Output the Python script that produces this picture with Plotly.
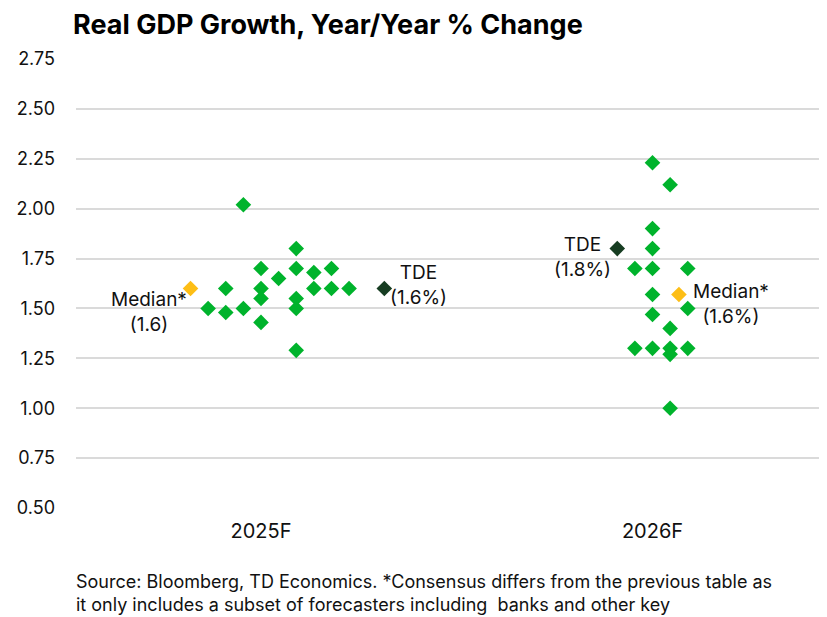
import plotly.graph_objects as go

# ---- data ----
categories = ["2025F", "2026F"]

values_2025 = [2.02, 1.80, 1.70, 1.70, 1.68, 1.70, 1.65, 1.60, 1.60, 1.60,
               1.60, 1.60, 1.55, 1.55, 1.50, 1.48, 1.50, 1.50, 1.43, 1.29]
columns_2025 = [-1, 2, 0, 2, 3, 4, 1, -2, 0, 3, 4, 5, 0, 2, -3, -2, -1, 2, 0, 2]

values_2026 = [2.23, 2.12, 1.90, 1.80, 1.70, 1.70, 1.70, 1.57, 1.50, 1.47,
               1.40, 1.30, 1.30, 1.30, 1.30, 1.27, 1.00]
columns_2026 = [0, 1, 0, 0, -1, 0, 2, 0, 2, 0, 1, -1, 0, 1, 2, 1, 1]

tde_values = [1.60, 1.80]
tde_columns = [7, -2]
median_values = [1.60, 1.57]
median_columns = [-4, 1.5]
tde_labels = ["TDE<br>(1.6%)", "TDE<br>(1.8%)"]
median_labels = ["Median*<br>(1.6)", "Median*<br>(1.6%)"]

y_ticks = [0.50, 0.75, 1.00, 1.25, 1.50, 1.75, 2.00, 2.25, 2.50, 2.75]

# ---- style ----
STEP = 0.045
GREEN = "#00B32C"
DARK = "#173D22"
YELLOW = "#FDBE16"
FONT = "Inter"
W, H = 819, 609  # page body has an 8px margin


def xpos(cat_index, cols):
    return [cat_index + c * STEP for c in cols]


fig = go.Figure()
fig.add_trace(go.Scatter(
    x=xpos(0, columns_2025) + xpos(1, columns_2026),
    y=values_2025 + values_2026,
    mode="markers",
    marker=dict(symbol="diamond", size=12, color=GREEN),
    cliponaxis=False, showlegend=False, hoverinfo="y"))
fig.add_trace(go.Scatter(
    x=[0 + median_columns[0] * STEP, 1 + median_columns[1] * STEP],
    y=median_values, mode="markers",
    marker=dict(symbol="diamond", size=12, color=YELLOW),
    cliponaxis=False, showlegend=False, hoverinfo="y"))
fig.add_trace(go.Scatter(
    x=[0 + tde_columns[0] * STEP, 1 + tde_columns[1] * STEP],
    y=tde_values, mode="markers",
    marker=dict(symbol="diamond", size=12, color=DARK),
    cliponaxis=False, showlegend=False, hoverinfo="y"))

ann_font = dict(family=FONT, size=19, color="#111111")
# 2025 labels
fig.add_annotation(x=0 + median_columns[0] * STEP, y=median_values[0], text=median_labels[0],
                   showarrow=False, xanchor="right", yanchor="middle", align="center",
                   xshift=-2, yshift=-24, font=ann_font)
fig.add_annotation(x=0 + tde_columns[0] * STEP, y=tde_values[0], text=tde_labels[0],
                   showarrow=False, xanchor="left", yanchor="middle", align="center",
                   xshift=4, yshift=3, font=ann_font)
# 2026 labels
fig.add_annotation(x=1 + tde_columns[1] * STEP, y=tde_values[1], text=tde_labels[1],
                   showarrow=False, xanchor="right", yanchor="middle", align="center",
                   xshift=-4, yshift=-8, font=ann_font)
fig.add_annotation(x=1 + median_columns[1] * STEP, y=median_values[1], text=median_labels[1],
                   showarrow=False, xanchor="left", yanchor="middle", align="center",
                   xshift=12, yshift=-10, font=ann_font)

fig.add_annotation(
    xref="paper", yref="paper", x=-0.0027, y=-0.135, xanchor="left", yanchor="top",
    align="left", showarrow=False,
    text="Source: Bloomberg, TD Economics. *Consensus differs from the previous table as<br>"
         "it only includes a subset of forecasters including  banks and other key",
    font=dict(family=FONT, size=18, color="#111111"))

fig.update_layout(
    width=W, height=H,
    margin=dict(l=68, r=0, t=51, b=109, autoexpand=False),
    paper_bgcolor="white", plot_bgcolor="white",
    title=dict(text="<b>Real GDP Growth, Year/Year % Change</b>",
               xref="container", yref="container", x=65 / W, xanchor="left",
               y=1 - 17 / H, yanchor="middle", automargin=False,
               font=dict(family=FONT, size=27, color="#000000")),
    font=dict(family=FONT, size=18, color="#111111"),
    xaxis=dict(range=[-0.4725, 1.4457], tickvals=[0, 1], ticktext=categories,
               showgrid=False, zeroline=False, showline=False, ticks="",
               automargin=False, ticklabelstandoff=9,
               tickfont=dict(family=FONT, size=20, color="#111111")),
    yaxis=dict(range=[0.5, 2.75], tickvals=y_ticks, tickformat=".2f",
               showgrid=True, gridcolor="#DADADA", gridwidth=2,
               zeroline=False, showline=False, ticks="", automargin=False,
               ticklabelstandoff=20,
               tickfont=dict(family=FONT, size=18, color="#111111")),
)

fig.write_html("out.html")
